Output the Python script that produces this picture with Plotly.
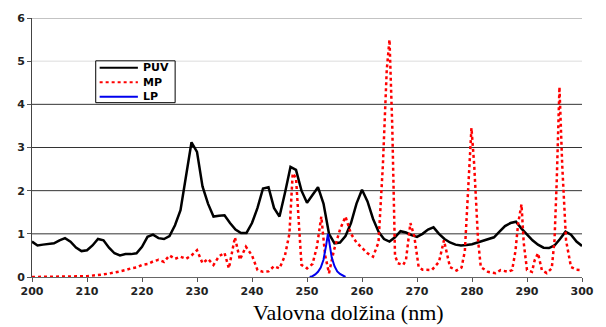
import plotly.graph_objects as go

# PUV (black) at 1 nm steps
puv_x = list(range(200, 301))
puv_y = [0.82, 0.73, 0.75, 0.77, 0.78, 0.85, 0.90, 0.82, 0.68, 0.60,
         0.62, 0.73, 0.88, 0.85, 0.68, 0.55, 0.50, 0.53, 0.53, 0.55,
         0.70, 0.93, 0.98, 0.90, 0.88, 0.95, 1.20, 1.55, 2.30, 3.12,
         2.90, 2.10, 1.70, 1.40, 1.42, 1.43, 1.25, 1.10, 1.02, 1.02,
         1.25, 1.60, 2.05, 2.08, 1.60, 1.40, 1.95, 2.55, 2.48, 2.00,
         1.72, 1.90, 2.08, 1.70, 1.00, 0.78, 0.80, 0.95, 1.25, 1.70,
         2.02, 1.75, 1.35, 1.05, 0.88, 0.82, 0.92, 1.06, 1.03, 0.97,
         0.93, 1.00, 1.10, 1.15, 1.00, 0.88, 0.80, 0.75, 0.73, 0.74,
         0.76, 0.80, 0.84, 0.88, 0.92, 1.05, 1.18, 1.25, 1.28, 1.12,
         0.98, 0.85, 0.75, 0.68, 0.67, 0.73, 0.88, 1.05, 0.98, 0.82,
         0.72]

# MP (red dashed)
mp_x = [200, 202, 204, 206, 208, 210, 211, 212, 213, 214, 215, 216, 217, 218, 219,
        220, 221, 222, 223, 224, 225, 226, 227, 228, 229, 230, 231, 232, 233, 234,
        235, 235.8, 236.9, 237.8, 238.9, 240, 241, 242, 243, 244, 245, 246, 246.8,
        247.4, 248, 248.6, 249, 250, 251, 251.8, 252.6, 253.3, 254, 254.9, 256, 257,
        258, 259, 260, 261, 262, 263, 263.8, 264.5, 265, 265.5, 266, 266.5, 267.5,
        268, 268.8, 269.5, 270.3, 271, 272.7, 274, 274.9, 275.5, 276, 277.2, 278.1,
        278.7, 279.3, 279.9, 280.4, 281.1, 281.6, 282.9, 284.3, 285.2, 286.5, 287.3,
        287.9, 288.4, 289, 289.4, 290, 290.9, 291.4, 292, 292.7, 293.6, 294.5, 295,
        295.4, 295.9, 296.4, 297.1, 298, 299, 300]
mp_y = [0, 0, 0.005, 0.01, 0.015, 0.02, 0.03, 0.04, 0.06, 0.08, 0.10, 0.13, 0.16, 0.20, 0.22,
        0.28, 0.30, 0.36, 0.40, 0.35, 0.50, 0.42, 0.47, 0.42, 0.50, 0.62, 0.32, 0.42, 0.28, 0.48,
        0.56, 0.20, 0.92, 0.40, 0.70, 0.50, 0.16, 0.12, 0.13, 0.25, 0.20, 0.50, 1.00,
        2.40, 2.30, 1.00, 0.28, 0.20, 0.30, 0.70, 1.40, 0.50, 0.09, 0.62, 1.10, 1.40,
        1.00, 0.80, 0.68, 0.55, 0.47, 0.80, 2.60, 4.80, 5.50, 3.50, 0.50, 0.32, 0.28,
        0.40, 1.25, 0.95, 0.23, 0.17, 0.16, 0.35, 0.85, 0.50, 0.23, 0.15, 0.22,
        0.60, 2.20, 3.45, 2.60, 0.85, 0.23, 0.12, 0.09, 0.16, 0.12, 0.16,
        0.60, 1.25, 1.68, 0.80, 0.16, 0.12, 0.39, 0.55, 0.16, 0.09, 0.20, 0.85,
        2.20, 4.40, 2.60, 0.85, 0.23, 0.17, 0.16]

# LP (blue)
lp_x = [250.5, 251, 251.5, 252, 252.5, 253, 253.5, 253.8, 254, 254.5, 255, 255.5, 256, 256.5, 257]
lp_y = [0.0, 0.02, 0.06, 0.12, 0.22, 0.40, 0.75, 1.00, 0.85, 0.45, 0.25, 0.13, 0.07, 0.03, 0.0]

x_ticks = list(range(200, 301, 10))
y_ticks = [0, 1, 2, 3, 4, 5, 6]
grid_colors = {1: "#333333", 2: "#333333", 3: "#333333", 4: "#333333", 5: "#dddddd", 6: "#888888"}

series_names = ["PUV", "MP", "LP"]
series_colors = ["black", "#ff0000", "#0000ee"]
series_dash = ["solid", "3px,3px", "solid"]
series_width = [2.5, 2.5, 2]

fig = go.Figure()
for name, xs, ys, col, dash, w in zip(series_names, [puv_x, mp_x, lp_x], [puv_y, mp_y, lp_y],
                                      series_colors, series_dash, series_width):
    fig.add_trace(go.Scatter(x=xs, y=ys, mode="lines", name=name, showlegend=False,
                             line=dict(color=col, width=w, dash=dash)))

# gridlines
for t in y_ticks[1:]:
    fig.add_shape(type="line", xref="paper", yref="y", x0=0, x1=1, y0=t, y1=t,
                  line=dict(color=grid_colors[t], width=1), layer="below")

# custom legend (paper coords; plot area 561 x 260 px)
PW, PH = 561.0, 260.0
def px(xp):
    return (xp - 32) / PW
def py(yp):
    return (277 - yp) / PH

fig.add_shape(type="rect", xref="paper", yref="paper", x0=px(97), x1=px(178), y0=py(102), y1=py(60),
              line=dict(color="black", width=1), fillcolor="white", layer="above")
for i, (name, col, dash, w) in enumerate(zip(series_names, series_colors, series_dash, series_width)):
    yy = 67 + i * 14.5
    fig.add_shape(type="line", xref="paper", yref="paper", x0=px(101), x1=px(140), y0=py(yy), y1=py(yy),
                  line=dict(color=col, width=min(w, 2), dash=dash), layer="above")
    fig.add_annotation(xref="paper", yref="paper", x=px(143), y=py(yy), xanchor="left", yanchor="middle",
                       text=f"<b>{name}</b>", showarrow=False,
                       font=dict(family="DejaVu Sans, Arial, sans-serif", size=11, color="black"))

fig.add_annotation(xref="paper", yref="paper", x=px(355), y=py(313), xanchor="center", yanchor="middle",
                   text="Valovna dolžina (nm)", showarrow=False,
                   font=dict(family="Liberation Serif, Times New Roman, serif", size=22, color="black"))

tick_font = dict(family="DejaVu Sans, Arial, sans-serif", size=11, color="#222222")

fig.update_layout(
    width=606, height=327,
    margin=dict(l=32, r=13, t=17, b=50),
    plot_bgcolor="white", paper_bgcolor="white",
    showlegend=False,
    xaxis=dict(range=[200, 300], tickvals=x_ticks, ticktext=[f"<b>{t}</b>" for t in x_ticks],
               ticks="outside", ticklen=4, tickcolor="#555", showgrid=False,
               showline=True, linecolor="#666", linewidth=1, zeroline=False,
               tickfont=tick_font),
    yaxis=dict(range=[0, 6], tickvals=y_ticks, ticktext=[f"<b>{t}</b>" for t in y_ticks],
               ticks="outside", ticklen=4, tickcolor="#555", showgrid=False,
               showline=True, linecolor="#444", linewidth=1, zeroline=False,
               tickfont=tick_font),
)

fig.write_html("out.html")
